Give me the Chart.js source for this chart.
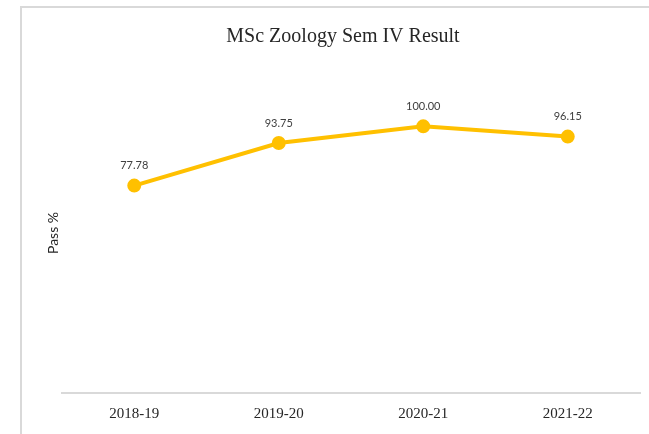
<!DOCTYPE html>
<html>
<head>
<meta charset="utf-8">
<script src="https://cdn.jsdelivr.net/npm/chart.js@4/dist/chart.umd.min.js"></script>
<style>
html,body{margin:0;padding:0;background:#fff;}
#wrap{position:relative;width:649px;height:434px;}
</style>
</head>
<body>
<div id="wrap"><canvas id="c" width="649" height="434"></canvas></div>
<script>
const categories = ["2018-19", "2019-20", "2020-21", "2021-22"];
const passPercent = [77.78, 93.75, 100.00, 96.15];
const chartTitle = "MSc Zoology Sem IV Result";
const yAxisTitle = "Pass %";

const framePlugin = {
  id: 'frame',
  beforeDraw(chart) {
    const ctx = chart.ctx;
    ctx.save();
    ctx.fillStyle = '#fff';
    ctx.fillRect(0, 0, chart.width, chart.height);
    ctx.fillStyle = '#d9d9d9';
    ctx.fillRect(20, 6, chart.width - 20, 2);
    ctx.fillRect(20, 6, 2, chart.height - 6);
    ctx.restore();
  }
};

const labelPlugin = {
  id: 'pointLabels',
  afterDatasetsDraw(chart) {
    const ctx = chart.ctx;
    const meta = chart.getDatasetMeta(0);
    ctx.save();
    ctx.font = '11px Lato, "Open Sans", sans-serif';
    ctx.fillStyle = '#404040';
    ctx.textAlign = 'center';
    ctx.textBaseline = 'middle';
    meta.data.forEach((pt, i) => {
      ctx.fillText(passPercent[i].toFixed(2), pt.x, pt.y - 20);
    });
    ctx.restore();
  }
};

new Chart(document.getElementById('c'), {
  type: 'line',
  data: {
    labels: categories,
    datasets: [{
      data: passPercent,
      borderColor: '#FFC000',
      backgroundColor: '#FFC000',
      borderWidth: 4,
      pointRadius: 5,
      pointHoverRadius: 5,
      pointBackgroundColor: '#FFC000',
      pointBorderColor: '#FFC000',
      tension: 0,
      fill: false
    }]
  },
  options: {
    responsive: false,
    animation: false,
    events: [],
    layout: { padding: { left: 44, right: 7, top: 0, bottom: 0 } },
    plugins: {
      legend: { display: false },
      tooltip: { enabled: false },
      title: {
        display: true,
        text: chartTitle,
        color: '#262626',
        font: { family: '"Liberation Serif", serif', size: 20, weight: 'normal', lineHeight: 1.2 },
        padding: { top: 25, bottom: 24 }
      }
    },
    scales: {
      x: {
        offset: true,
        grid: { display: false, drawTicks: false },
        border: { display: true, color: '#d9d9d9', width: 2 },
        ticks: {
          color: '#262626',
          padding: 12,
          font: { family: '"Liberation Serif", serif', size: 15 },
          maxRotation: 0
        },
        afterFit(scale) { scale.height = 41; }
      },
      y: {
        min: 0,
        max: 120,
        grid: { display: false, drawTicks: false },
        border: { display: false },
        ticks: { display: false },
        title: {
          display: true,
          text: yAxisTitle,
          color: '#262626',
          font: { family: 'Lato, "Open Sans", sans-serif', size: 14 },
          padding: { top: 1, bottom: 0 }
        },
        afterFit(scale) { scale.width = 18; }
      }
    }
  },
  plugins: [framePlugin, labelPlugin]
});
</script>
</body>
</html>
